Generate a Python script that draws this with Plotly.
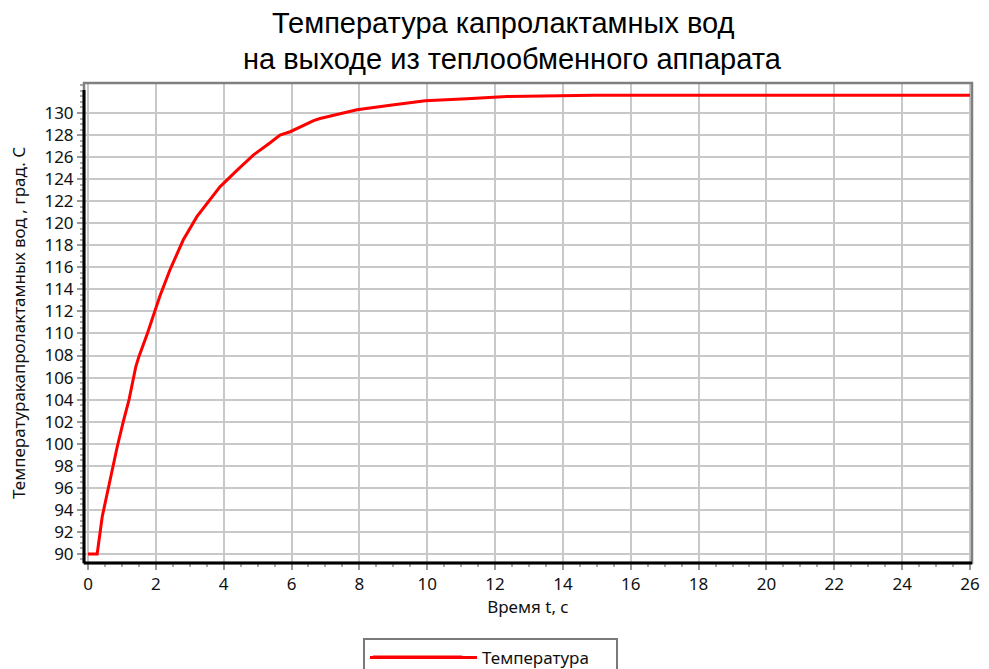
import plotly.graph_objects as go

# Outlet temperature of the caprolactam water vs. time
time_s = [0.0, 0.27, 0.42, 0.75, 0.86, 1.04, 1.21, 1.41, 1.50, 1.75, 1.95, 2.12,
          2.42, 2.81, 3.21, 3.89, 4.39, 4.88, 5.37, 5.66, 5.96, 6.65, 6.84,
          7.93, 8.91, 9.94, 11.17, 12.35, 14.9, 20.0, 26.0]
temperature = [90.0, 90.0, 93.4, 98.2, 99.7, 102.0, 104.0, 107.0, 107.9, 110.0, 111.8, 113.4,
               115.8, 118.5, 120.6, 123.3, 124.8, 126.2, 127.3, 128.0, 128.3, 129.3, 129.5,
               130.3, 130.7, 131.1, 131.3, 131.5, 131.6, 131.6, 131.6]

x_ticks = list(range(0, 27, 2))
y_ticks = list(range(90, 131, 2))

title_lines = ["Температура капролактамных вод", "на выходе из теплообменного аппарата"]

font_family = "Noto Sans, Open Sans, DejaVu Sans, sans-serif"
title_family = "Liberation Sans, Arial, sans-serif"
text_color = "#111111"

# Plot-area geometry in pixels (used to place text and legend pieces in paper units)
W, H = 989, 669
L, R, T, B = 84, 17, 83, 106
PW, PH = W - L - R, H - T - B


def px_x(px):
    return (px - L) / PW


def px_y(py):
    return (H - B - py) / PH


fig = go.Figure()
fig.add_trace(go.Scatter(
    x=time_s, y=temperature, mode="lines", name="Температура",
    line=dict(color="#ff0000", width=3),
))

grid = "#c8c8c8"
fig.update_layout(
    width=W, height=H,
    margin=dict(l=L, r=R, t=T, b=B, autoexpand=False),
    paper_bgcolor="white", plot_bgcolor="white",
    font=dict(family=font_family, size=17, color=text_color),
    showlegend=True,
    legend=dict(
        orientation="h", x=px_x(363), y=(H - 638) / H, xref="paper", yref="container",
        xanchor="left", yanchor="top",
        bordercolor="#7a7a7a", borderwidth=2, bgcolor="rgba(0,0,0,0)",
        font=dict(family=font_family, size=17, color=text_color),
        itemwidth=107, entrywidth=129,
    ),
)

# Two-line chart heading
for text, cx, cy in zip(title_lines, [503, 512], [23, 59]):
    fig.add_annotation(
        text=text, xref="paper", yref="paper", x=px_x(cx), y=px_y(cy),
        xanchor="center", yanchor="middle", showarrow=False,
        font=dict(family=title_family, size=29, color="#000000"),
    )

fig.update_xaxes(
    range=[-0.118, 26.06], tickvals=x_ticks, ticktext=[str(v) for v in x_ticks],
    showgrid=True, gridcolor=grid, gridwidth=1.5,
    ticks="outside", ticklen=6, tickcolor="#999999", tickwidth=2,
    minor=dict(dtick=0.5, tick0=0, ticks="outside", ticklen=3, tickcolor="#aaaaaa", showgrid=False),
    showline=False, zeroline=False,
    title=dict(text="Время t, с", font=dict(family=font_family, size=17, color=text_color), standoff=2),
)
fig.update_yaxes(
    range=[89.18, 132.72], tickvals=y_ticks, ticktext=[str(v) for v in y_ticks],
    showgrid=True, gridcolor=grid, gridwidth=1.5,
    ticks="outside", ticklen=6, tickcolor="#999999", tickwidth=2,
    minor=dict(dtick=0.5, tick0=90, ticks="outside", ticklen=3, tickcolor="#aaaaaa", showgrid=False),
    showline=False, zeroline=False,
    title=dict(text="Температуракапролактамных вод , град. С",
               font=dict(family=font_family, size=17, color=text_color), standoff=14),
)

# Frame: grey top/right border, heavy black left/bottom axes
fig.add_shape(type="rect", xref="paper", yref="paper", x0=0, x1=1, y0=0, y1=1,
              line=dict(color="#7f7f7f", width=2.5), layer="above")
fig.add_shape(type="line", xref="paper", yref="paper", x0=0, x1=0, y0=0, y1=px_y(90),
              line=dict(color="#000000", width=3), layer="above")
fig.add_shape(type="line", xref="paper", yref="paper", x0=0, x1=1, y0=0, y1=0,
              line=dict(color="#000000", width=3), layer="above")

# Longer sample stroke inside the legend box
fig.add_shape(type="line", xref="paper", yref="paper",
              x0=px_x(373), x1=px_x(462), y0=px_y(657), y1=px_y(657),
              line=dict(color="#ff0000", width=3), layer="above")

fig.write_html("out.html")
